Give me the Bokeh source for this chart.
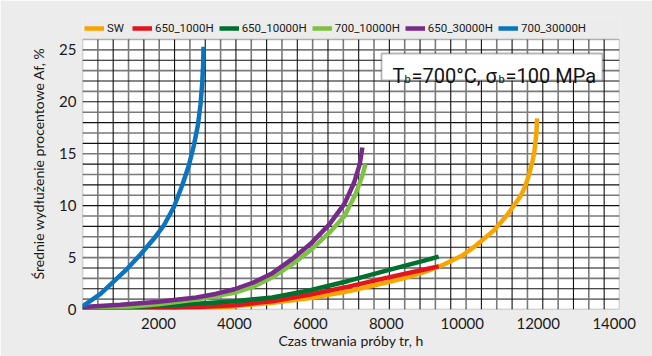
from bokeh.plotting import figure
from bokeh.models import (Legend, LegendItem, Range1d, FixedTicker,
                          BoxAnnotation, Label)
from bokeh.embed import file_html
from bokeh.resources import INLINE

# ---- data ----
sw_x = [0, 1000, 2000, 3000, 4000, 5000, 6000, 7000, 8000, 8500, 9000, 9500, 10000, 10303, 10830, 11182, 11532, 11650, 11751, 11850, 11901, 11950, 11971]
sw_y = [0.0, 0.02, 0.07, 0.15, 0.3, 0.65, 1.1, 1.75, 2.6, 3.05, 3.6, 4.3, 5.2, 6.0, 7.6, 9.1, 10.9, 11.8, 12.9, 14.3, 15.3, 16.9, 18.4]

s650_1000_x = [0, 1000, 2000, 3000, 4000, 5000, 6000, 7000, 8000, 9000, 9380]
s650_1000_y = [0.0, 0.05, 0.12, 0.25, 0.42, 0.8, 1.45, 2.2, 3.05, 3.85, 4.15]

s650_10000_x = [0, 1000, 2000, 3000, 4000, 5000, 6000, 7000, 8000, 9000, 9380]
s650_10000_y = [0.1, 0.2, 0.35, 0.55, 0.8, 1.15, 1.85, 2.75, 3.75, 4.7, 5.1]

s700_10000_x = [0, 1000, 2000, 3000, 4000, 4500, 5000, 5500, 6000, 6500, 6900, 7200, 7380, 7450]
s700_10000_y = [0.05, 0.2, 0.5, 0.95, 1.6, 2.2, 3.1, 4.3, 5.7, 7.4, 9.0, 11.2, 13.0, 14.0]

s650_30000_x = [0, 1000, 2000, 3000, 3500, 4000, 4500, 5000, 5500, 6000, 6500, 6900, 7150, 7300, 7370]
s650_30000_y = [0.25, 0.45, 0.75, 1.15, 1.5, 1.95, 2.6, 3.5, 4.8, 6.3, 8.2, 10.2, 12.2, 14.0, 15.6]

s700_30000_x = [0, 474, 825, 1176, 1527, 1878, 2141, 2404, 2624, 2800, 2932, 3037, 3107, 3151, 3178, 3186]
s700_30000_y = [0.29, 1.51, 2.7, 3.92, 5.3, 6.81, 8.09, 9.85, 11.94, 13.87, 15.79, 17.72, 19.74, 21.73, 23.66, 25.3]

series_names = ["SW", "650_1000H", "650_10000H", "700_10000H", "650_30000H", "700_30000H"]
series_colors = ["#f9a500", "#e3141c", "#00702f", "#7dc242", "#762a8a", "#0a74bf"]
series_x = [sw_x, s650_1000_x, s650_10000_x, s700_10000_x, s650_30000_x, s700_30000_x]
series_y = [sw_y, s650_1000_y, s650_10000_y, s700_10000_y, s650_30000_y, s700_30000_y]

x_ticks = [2000, 4000, 6000, 8000, 10000, 12000, 14000]
y_ticks = [0, 5, 10, 15, 20, 25]
x_max = 14140
y_max = 26
y_top = y_max * 292 / 270   # extra band above the grid holds the legend

BG = "#ececec"
TICK_FONT = "Lato"

p = figure(width=652, height=356, output_backend="svg",
           toolbar_location=None,
           x_range=Range1d(0, x_max), y_range=Range1d(0, y_top),
           min_border_left=82, min_border_right=33, min_border_top=17,
           min_border_bottom=47, background_fill_color=BG,
           border_fill_color=BG, outline_line_color=None)
p.xgrid.visible = False
p.ygrid.visible = False

# white plotting area
p.add_layout(BoxAnnotation(left=0, right=x_max, bottom=0, top=y_max,
                           fill_color="white", fill_alpha=1, line_color=None,
                           level="underlay"))

# grid: alternating dark / grey lines
xstep = x_max / 35
xg = [i * xstep for i in range(1, 35)]
yg = list(range(1, y_max))
x_dark = [v for i, v in enumerate(xg) if i % 2 == 1]
x_grey = [v for i, v in enumerate(xg) if i % 2 == 0]
y_dark = [v for i, v in enumerate(yg) if i % 2 == 1]
y_grey = [v for i, v in enumerate(yg) if i % 2 == 0]
p.segment(x0=x_grey, y0=[0] * len(x_grey), x1=x_grey, y1=[y_max] * len(x_grey),
          line_color="#7a7a7a", line_width=1.6)
p.segment(x0=[0] * len(y_grey), y0=y_grey, x1=[x_max] * len(y_grey), y1=y_grey,
          line_color="#7a7a7a", line_width=1.6)
p.segment(x0=x_dark, y0=[0] * len(x_dark), x1=x_dark, y1=[y_max] * len(x_dark),
          line_color="#111111", line_width=1.1)
p.segment(x0=[0] * len(y_dark), y0=y_dark, x1=[x_max] * len(y_dark), y1=y_dark,
          line_color="#111111", line_width=1.1)

# axes
p.xaxis.ticker = FixedTicker(ticks=x_ticks)
p.yaxis.ticker = FixedTicker(ticks=y_ticks)
for ax in (p.xaxis[0], p.yaxis[0]):
    ax.axis_line_color = None
    ax.major_tick_line_color = None
    ax.minor_tick_line_color = None
    ax.major_tick_out = 0
    ax.major_tick_in = 0
    ax.minor_tick_out = 0
    ax.major_label_text_font = TICK_FONT
    ax.major_label_text_font_size = "15px"
    ax.major_label_text_color = "#1a1a1a"
    ax.axis_label_text_font = TICK_FONT
    ax.axis_label_text_font_size = "14px"
    ax.axis_label_text_font_style = "normal"
    ax.axis_label_text_color = "#1a1a1a"
p.xaxis.major_label_standoff = 8
p.yaxis.major_label_standoff = 6
p.xaxis.axis_label = "Czas trwania próby tr, h"
p.yaxis.axis_label = "Średnie wydłużenie procentowe Af, %"
p.xaxis.axis_label_standoff = 0
p.yaxis.axis_label_standoff = 9

# curves
items = []
for name, col, xs, ys in zip(series_names, series_colors, series_x, series_y):
    r = p.line(xs, ys, line_color=col, line_width=4.5, line_cap="butt",
               line_join="round")
    items.append(LegendItem(label=name, renderers=[r]))

# frame border of the grid area
p.add_layout(BoxAnnotation(left=0, right=x_max, bottom=0, top=y_max,
                           fill_alpha=0, line_color="#111111", line_width=1.5))

legend = Legend(items=items, orientation="horizontal", location=(2, 274),
                background_fill_alpha=0, border_line_color=None,
                label_text_font="Roboto",
                label_text_font_size="11.5px", label_text_color="#1a1a1a",
                glyph_width=20, glyph_height=12, label_standoff=3,
                spacing=5, padding=0, margin=0, label_height=14)
p.add_layout(legend, "center")

# annotation box
p.add_layout(BoxAnnotation(left=7873, right=13692, bottom=22.05, top=24.65,
                           fill_color="white", fill_alpha=1,
                           line_color="#111111", line_width=1.8))
base_x, base_y = 8163, 22.44
ann_font = "Roboto"
pieces = [("T", 0, 0, "20px"), ("b", 12, -3, "11px"), ("=700°C, σ", 19, 0, "20px"),
          ("b", 106, -3, "11px"), ("=100 MPa", 113, 0, "20px")]
for txt, dx, dy, fs in pieces:
    p.add_layout(Label(x=base_x, y=base_y, x_offset=dx, y_offset=dy, text=txt,
                       text_font=ann_font, text_font_size=fs,
                       text_color="#111111", text_baseline="alphabetic"))

open("out.html", "w").write(file_html(p, INLINE))
